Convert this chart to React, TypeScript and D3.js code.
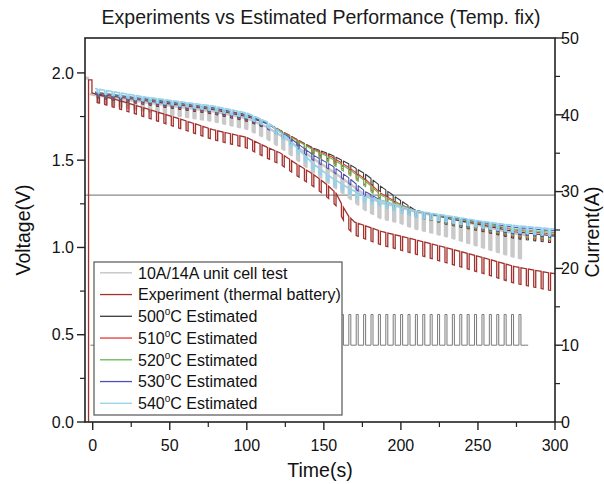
import React from "react";
import * as d3 from "d3";

// ---------- data ----------
const PULSE_PERIOD = 4.8; // s
const PULSE_WIDTH = 1.3; // s
const PULSE_FIRST = 3.0; // s

// 10A/14A unit cell test (gray)
const grayLeadT = [-5, -2.3];
const grayLeadV = [1.97, 1.97];
const grayT = [-2, 0, 35, 78, 100, 113, 126, 143, 155, 166, 177, 187, 198, 209, 231, 252, 274, 281.5];
const grayV = [1.88, 1.875, 1.83, 1.78, 1.74, 1.69, 1.62, 1.51, 1.44, 1.37, 1.3, 1.255, 1.235, 1.205, 1.17, 1.125, 1.08, 1.07];
const grayDipT = [0, 100, 150, 200, 250, 282];
const grayDipV = [0.04, 0.06, 0.08, 0.09, 0.12, 0.14];

// Experiment (thermal battery)
const expLeadT = [-2.7, -2.7, -0.5];
const expLeadV = [0, 1.96, 1.96];
const expT = [-0.5, 14, 35, 57, 78, 100, 113, 122, 132, 143, 152, 158, 162, 166, 170, 188, 200, 209, 231, 252, 274, 296, 300];
const expV = [1.885, 1.85, 1.795, 1.735, 1.675, 1.63, 1.575, 1.54, 1.48, 1.42, 1.36, 1.31, 1.24, 1.18, 1.145, 1.09, 1.065, 1.045, 0.995, 0.945, 0.89, 0.855, 0.85];
const expDipT = [0, 100, 200, 300];
const expDipV = [0.045, 0.06, 0.08, 0.1];

// Estimated curves
const estT = [1.5, 35, 78, 100, 113, 126, 143, 155, 166, 177, 187, 198, 209, 231, 252, 274, 300];
const est500 = [1.88, 1.84, 1.79, 1.75, 1.71, 1.65, 1.57, 1.53, 1.48, 1.42, 1.35, 1.28, 1.215, 1.165, 1.13, 1.09, 1.065];
const est510 = [1.885, 1.845, 1.795, 1.755, 1.715, 1.65, 1.565, 1.52, 1.46, 1.39, 1.31, 1.255, 1.21, 1.17, 1.135, 1.1, 1.075];
const est520 = [1.89, 1.85, 1.8, 1.76, 1.715, 1.645, 1.56, 1.51, 1.45, 1.38, 1.3, 1.25, 1.21, 1.17, 1.14, 1.105, 1.085];
const est530 = [1.89, 1.85, 1.8, 1.76, 1.71, 1.64, 1.53, 1.47, 1.4, 1.32, 1.27, 1.24, 1.21, 1.175, 1.145, 1.115, 1.095];
const est540 = [1.91, 1.86, 1.81, 1.77, 1.72, 1.63, 1.48, 1.4, 1.34, 1.29, 1.27, 1.24, 1.21, 1.18, 1.15, 1.125, 1.105];
const estDipT = [0, 150, 300];
const estDipV = [0.02, 0.03, 0.04];

// Current (right axis)
const currentStartT = -1.5;
const currentEndT = 282.6;
const currentBase = 10;
const currentPeak = 14;

const cutoffVoltage = 1.3;

// axes ticks
const xMajor = [0, 50, 100, 150, 200, 250, 300];
const xMinor = [25, 75, 125, 175, 225, 275];
const yLMajor = [0, 0.5, 1.0, 1.5, 2.0];
const yLMinor = [0.25, 0.75, 1.25, 1.75];
const yRMajor = [0, 10, 20, 30, 40, 50];
const yRMinor = [5, 15, 25, 35, 45];

const legendLabels = [
  { pre: "10A/14A unit cell test", sup: "", post: "" },
  { pre: "Experiment (thermal battery)", sup: "", post: "" },
  { pre: "500", sup: "o", post: "C Estimated" },
  { pre: "510", sup: "o", post: "C Estimated" },
  { pre: "520", sup: "o", post: "C Estimated" },
  { pre: "530", sup: "o", post: "C Estimated" },
  { pre: "540", sup: "o", post: "C Estimated" },
];

// ---------- styles ----------
const FONT = "'Liberation Sans', Arial, Helvetica, sans-serif";
const COLORS = {
  gray: "#c9c9c9",
  exp: "#a3322e",
  e500: "#3a3a3a",
  e510: "#e23a35",
  e520: "#66b84f",
  e530: "#4f4fb5",
  e540: "#95d2ea",
  current: "#7a7a7a",
  cutoff: "#8a8a8a",
};

const W = 604;
const H = 484;
const L = 85, R = 555, T = 38, B = 422;

const x = d3.scaleLinear().domain([-5, 300]).range([L, R]);
const yL = d3.scaleLinear().domain([0, 2.2]).range([B, T]);
const yR = d3.scaleLinear().domain([0, 50]).range([B, T]);

function pulseStarts(t0: number, t1: number): number[] {
  const out: number[] = [];
  for (let p = PULSE_FIRST; p + PULSE_WIDTH <= t1 + 1e-9; p += PULSE_PERIOD) {
    if (p >= t0) out.push(p);
  }
  return out;
}

function pulsed(keysT: number[], keysV: number[], dipT: number[], dipV: number[]): [number, number][] {
  const env = d3.scaleLinear().domain(keysT).range(keysV).clamp(true);
  const dip = d3.scaleLinear().domain(dipT).range(dipV).clamp(true);
  const t0 = keysT[0];
  const t1 = keysT[keysT.length - 1];
  const starts = pulseStarts(t0, t1);
  const ev: { t: number; o: number; v: number }[] = [];
  const inPulse = (t: number) => starts.some((p) => t > p && t < p + PULSE_WIDTH);
  keysT.forEach((t, i) => {
    ev.push({ t, o: 1, v: inPulse(t) ? keysV[i] - dip(t) : keysV[i] });
  });
  starts.forEach((p) => {
    const q = p + PULSE_WIDTH;
    ev.push({ t: p, o: 0, v: env(p) });
    ev.push({ t: p, o: 2, v: env(p) - dip(p) });
    ev.push({ t: q, o: 0, v: env(q) - dip(q) });
    ev.push({ t: q, o: 2, v: env(q) });
  });
  ev.sort((a, b) => a.t - b.t || a.o - b.o);
  return ev.map((e) => [e.t, e.v]);
}

function currentTrace(): [number, number][] {
  const pts: [number, number][] = [[currentStartT, currentBase]];
  pulseStarts(currentStartT, currentEndT).forEach((p) => {
    pts.push([p, currentBase], [p, currentPeak], [p + PULSE_WIDTH, currentPeak], [p + PULSE_WIDTH, currentBase]);
  });
  pts.push([currentEndT, currentBase]);
  return pts;
}

const lineL = d3.line<[number, number]>().x((d) => x(d[0])).y((d) => yL(d[1]));
const lineR = d3.line<[number, number]>().x((d) => x(d[0])).y((d) => yR(d[1]));

export default function App() {
  const grayLead = grayLeadT.map((t, i) => [t, grayLeadV[i]] as [number, number]);
  const grayPts = pulsed(grayT, grayV, grayDipT, grayDipV);
  const expLead = expLeadT.map((t, i) => [t, expLeadV[i]] as [number, number]);
  const expPts = expLead.concat(pulsed(expT, expV, expDipT, expDipV));
  const estSeries = [
    { v: est500, c: COLORS.e500, w: 1.1 },
    { v: est510, c: COLORS.e510, w: 1.1 },
    { v: est520, c: COLORS.e520, w: 1.1 },
    { v: est530, c: COLORS.e530, w: 1.1 },
    { v: est540, c: COLORS.e540, w: 1.7 },
  ];
  const legendColors = [COLORS.gray, COLORS.exp, COLORS.e500, COLORS.e510, COLORS.e520, COLORS.e530, COLORS.e540];
  const legendWidths = [1.5, 1.3, 1.3, 1.3, 1.3, 1.3, 1.3];

  const tickMajor = 8;
  const tickMinor = 5;
  const axisColor = "#222";

  return (
    <svg width={W} height={H} style={{ position: "fixed", left: 0, top: 0, background: "#fff" }} fontFamily={FONT}>
      <rect x={0} y={0} width={W} height={H} fill="#fff" />
      <defs>
        <clipPath id="plotclip">
          <rect x={L} y={T} width={R - L} height={B - T} />
        </clipPath>
      </defs>
      <text x={(L + R) / 2 + 1} y={24} textAnchor="middle" fontSize={19.5} fill="#1a1a1a">
        Experiments vs Estimated Performance (Temp. fix)
      </text>

      <g clipPath="url(#plotclip)">
        {/* cutoff line */}
        <line x1={L} x2={R} y1={yL(cutoffVoltage)} y2={yL(cutoffVoltage)} stroke={COLORS.cutoff} strokeWidth={1.1} />
        {/* current trace */}
        <path d={lineR(currentTrace()) || ""} fill="none" stroke={COLORS.current} strokeWidth={1} />
        {/* gray unit cell */}
        <path d={lineL(grayLead) || ""} fill="none" stroke={COLORS.gray} strokeWidth={3} />
        <path d={lineL(grayPts) || ""} fill="none" stroke={COLORS.gray} strokeWidth={2.4} strokeLinejoin="round" />
        {/* experiment */}
        <path d={lineL(expPts) || ""} fill="none" stroke={COLORS.exp} strokeWidth={1.3} />
        {estSeries.map((s, i) => (
          <path
            key={i}
            d={lineL(pulsed(estT, s.v, estDipT, estDipV)) || ""}
            fill="none"
            stroke={s.c}
            strokeWidth={s.w}
            strokeLinejoin="round"
          />
        ))}
      </g>

      {/* legend */}
      <g>
        <rect x={94} y={262} width={248} height={153} fill="#fff" stroke="#555" strokeWidth={1.2} />
        {legendLabels.map((lab, i) => {
          const cy = 272.8 + i * 21.75;
          return (
            <g key={i}>
              <line x1={100} x2={132} y1={cy} y2={cy} stroke={legendColors[i]} strokeWidth={legendWidths[i]} />
              <text x={138} y={cy} dy="0.36em" fontSize={16} fill="#111">
                {lab.pre}
                {lab.sup ? (
                  <tspan fontSize={10} dy={-7}>
                    {lab.sup}
                  </tspan>
                ) : null}
                {lab.sup ? <tspan dy={7}>{lab.post}</tspan> : null}
              </text>
            </g>
          );
        })}
      </g>

      {/* frame */}
      <rect x={L} y={T} width={R - L} height={B - T} fill="none" stroke={axisColor} strokeWidth={1.6} />

      {/* bottom axis */}
      {xMajor.map((v) => (
        <g key={"xm" + v}>
          <line x1={x(v)} x2={x(v)} y1={B} y2={B + tickMajor} stroke={axisColor} strokeWidth={1.4} />
          <text x={x(v)} y={451} textAnchor="middle" fontSize={16} fill="#111">
            {v}
          </text>
        </g>
      ))}
      {xMinor.map((v) => (
        <line key={"xn" + v} x1={x(v)} x2={x(v)} y1={B} y2={B + tickMinor} stroke={axisColor} strokeWidth={1.2} />
      ))}
      <text x={(L + R) / 2} y={477} textAnchor="middle" fontSize={19.5} fill="#111">
        Time(s)
      </text>

      {/* left axis */}
      {yLMajor.map((v) => (
        <g key={"yl" + v}>
          <line x1={L - tickMajor} x2={L} y1={yL(v)} y2={yL(v)} stroke={axisColor} strokeWidth={1.4} />
          <text x={L - 11} y={yL(v)} dy="0.36em" textAnchor="end" fontSize={16} fill="#111">
            {v.toFixed(1)}
          </text>
        </g>
      ))}
      {yLMinor.map((v) => (
        <line key={"yln" + v} x1={L - tickMinor} x2={L} y1={yL(v)} y2={yL(v)} stroke={axisColor} strokeWidth={1.2} />
      ))}
      <text transform={`translate(30, ${(T + B) / 2}) rotate(-90)`} textAnchor="middle" fontSize={19.5} fill="#111">
        Voltage(V)
      </text>

      {/* right axis */}
      {yRMajor.map((v) => (
        <g key={"yr" + v}>
          <line x1={R} x2={R + tickMajor} y1={yR(v)} y2={yR(v)} stroke={axisColor} strokeWidth={1.4} />
          <text x={R + 6} y={yR(v)} dy="0.36em" textAnchor="start" fontSize={16} fill="#111">
            {v}
          </text>
        </g>
      ))}
      {yRMinor.map((v) => (
        <line key={"yrn" + v} x1={R} x2={R + tickMinor} y1={yR(v)} y2={yR(v)} stroke={axisColor} strokeWidth={1.2} />
      ))}
      <text transform={`translate(599, ${(T + B) / 2 + 2}) rotate(-90)`} textAnchor="middle" fontSize={19.5} fill="#111">
        Current(A)
      </text>
    </svg>
  );
}
